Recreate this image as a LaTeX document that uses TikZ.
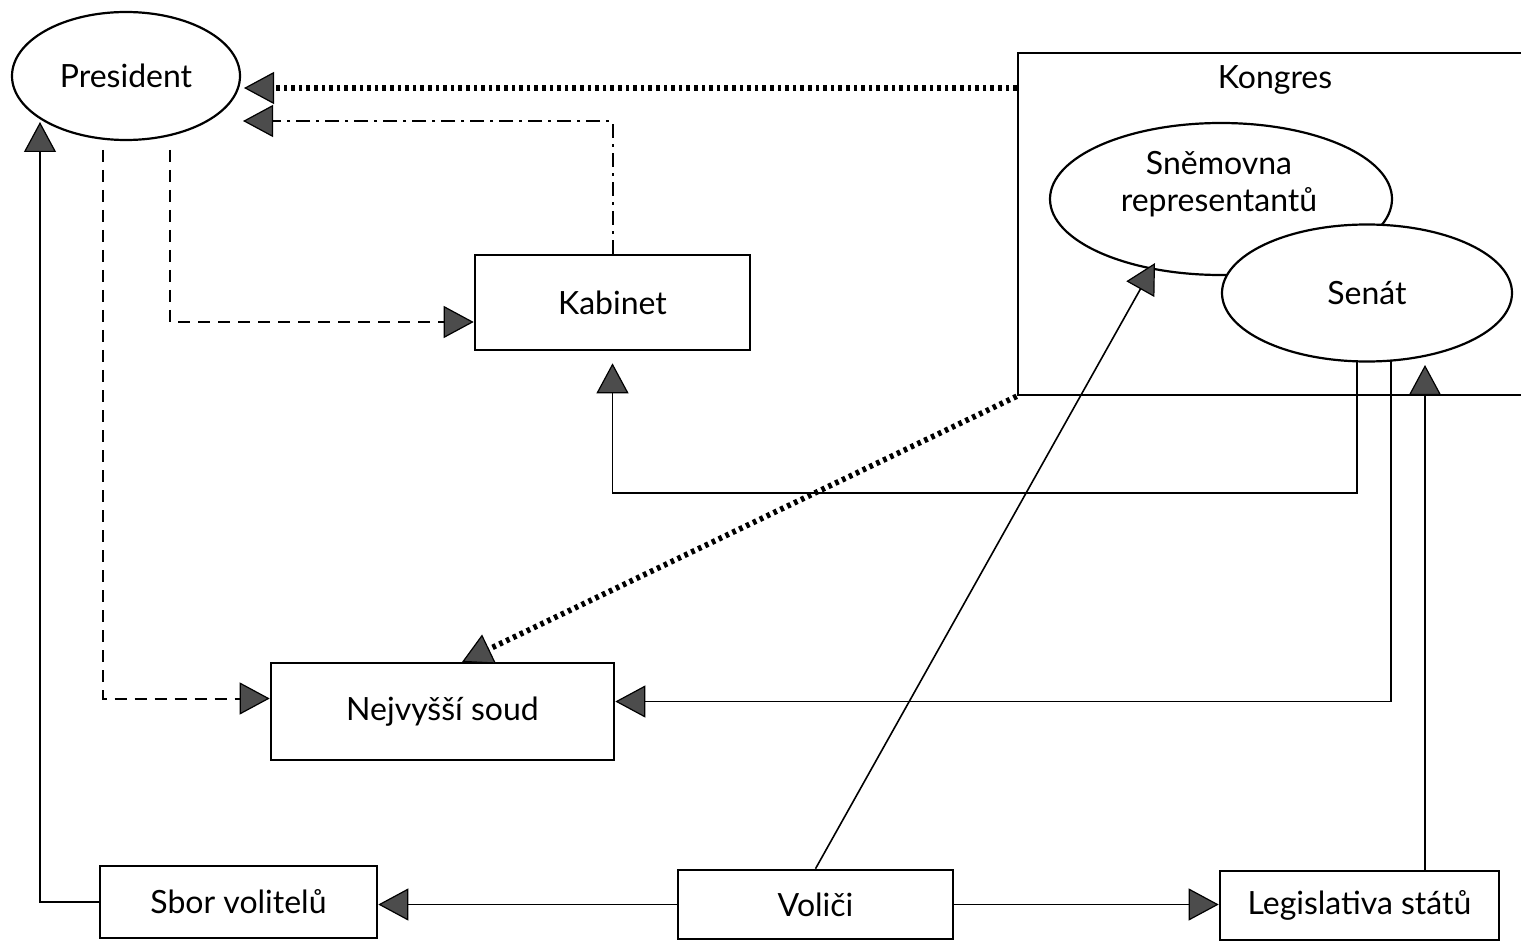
\documentclass[tikz,border=0pt]{standalone}
\usepackage{fontspec}
\setmainfont{Lato}
\usetikzlibrary{arrows.meta,shapes.geometric,calc}
\begin{document}
\begin{tikzpicture}[x=0.5pt,y=-0.5pt,
  font=\fontsize{16}{18.5}\selectfont,
  box/.style={draw,line width=1.3pt,rectangle,inner sep=0pt,fill=white},
  oval/.style={draw,line width=1.1pt,ellipse,inner sep=0pt,fill=white},
  tip/.style={-{Triangle[length=15pt,width=16pt,line width=0.6pt,fill=black!70]}},
  conn/.style={line width=0.8pt,tip},
  dashconn/.style={line width=1pt,dash pattern=on 6pt off 4pt,tip},
  ddconn/.style={line width=1pt,dash pattern=on 7pt off 3pt on 1.5pt off 3pt,tip},
  dotconn/.style={line width=2.8pt,dash pattern=on 1.8pt off 2pt,tip}
]
\useasboundingbox (0,0) rectangle (1521,941);
\fill[white] (0,0) rectangle (1521,941);

% nodes
\node[oval,minimum width=114pt,minimum height=64pt] (pres) at (126,76) {President};
\node[box,minimum width=137.5pt,minimum height=47.5pt] (kab) at (612.5,302.5) {Kabinet};
\node[box,minimum width=253.5pt,minimum height=171pt] (kong) at (1271.5,224) {};
\node (kongt) at (1275,80) {Kongres};
\node[oval,minimum width=171pt,minimum height=76pt] (snem) at (1221,199) {};
\node[align=center] (snemt) at (1219,184) {Sněmovna\\representantů};
\node[oval,minimum width=145pt,minimum height=68.5pt] (sen) at (1367,293) {Senát};
\node[box,minimum width=171.5pt,minimum height=48.5pt] (soud) at (442.5,711.5) {Nejvyšší soud};
\node[box,minimum width=138.5pt,minimum height=36pt] (sbor) at (238.5,902) {Sbor volitelů};
\node[box,minimum width=137.5pt,minimum height=34.5pt] (vol) at (815.5,904.5) {Voliči};
\node[box,minimum width=139.5pt,minimum height=34.5pt] (leg) at (1359.5,905.5) {Legislativa států};

% coordinates for free ends
\coordinate (p1) at (244,88);
\coordinate (p2) at (243,121);
\coordinate (a3) at (170,150);
\coordinate (k3) at ([yshift=-9.75pt]kab.west);
\coordinate (a4) at (103,150);
\coordinate (p11) at (40,122);
\coordinate (s5) at (1357,360);
\coordinate (c5) at (612.5,493);
\coordinate (s6) at (1391,360);
\coordinate (s7) at (1425,365);
\coordinate (s8) at (1155,263);
\coordinate (s12) at (462,662);

% connectors
\draw[dotconn] (kong.west |- p1) -- (p1);
\draw[ddconn] (kab.north) |- (p2);
\draw[dashconn] (a3) |- (k3);
\draw[dashconn] (a4) |- ([yshift=6.5pt]soud.west);
\draw[conn] (sbor.west) -| (p11);
\draw[conn,shorten >=6pt] (s5) |- (c5) -- (kab.south);
\draw[conn] (s6) |- ([yshift=5pt]soud.east);
\draw[conn] (leg.north -| s7) -- (s7);
\draw[conn] (vol.north) -- (s8);
\draw[conn] (vol.west) -- (sbor.east |- vol.west);
\draw[conn] (vol.east) -- (leg.west |- vol.east);
\draw[dotconn] (kong.south west) -- (s12);
\end{tikzpicture}
\end{document}
